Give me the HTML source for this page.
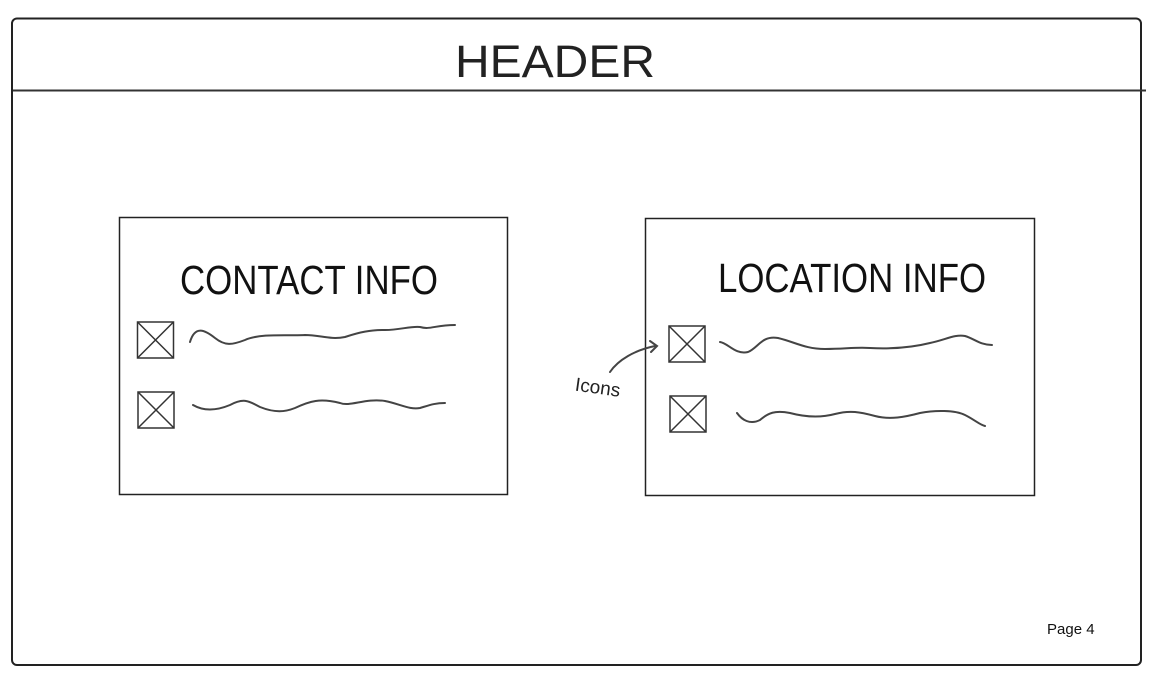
<!DOCTYPE html>
<html><head><meta charset="utf-8"><style>
html,body{margin:0;padding:0;background:#fff;width:1158px;height:692px;overflow:hidden}
svg{display:block}
.hw{font-family:"Liberation Sans Narrow","Liberation Sans",sans-serif;font-weight:normal;fill:#111}
</style></head><body>
<svg width="1158" height="692" viewBox="0 0 1158 692" xmlns="http://www.w3.org/2000/svg">
<rect x="12" y="18.5" width="1129" height="646.5" rx="5" fill="none" stroke="#222" stroke-width="2"/>
<line x1="13" y1="90.5" x2="1146" y2="90.5" stroke="#333" stroke-width="2"/>
<g transform="translate(455,77) scale(1,1.5)">
<text class="hw" x="0" y="0" font-size="30" textLength="200" lengthAdjust="spacingAndGlyphs" style="fill:#222">HEADER</text>
</g>

<rect x="119.5" y="217.5" width="388" height="277" fill="none" stroke="#222" stroke-width="1.5"/>
<rect x="645.5" y="218.5" width="389" height="277" fill="none" stroke="#222" stroke-width="1.5"/>

<g transform="translate(180,294) scale(1,1.45)">
<text class="hw" x="0" y="0" font-size="28" textLength="258" lengthAdjust="spacingAndGlyphs">CONTACT  INFO</text>
</g>
<g transform="translate(718,292) scale(1,1.45)">
<text class="hw" x="0" y="0" font-size="28" textLength="268" lengthAdjust="spacingAndGlyphs">LOCATION  INFO</text>
</g>

<g fill="none" stroke="#333" stroke-width="1.5">
<rect x="137.5" y="322" width="36" height="36"/><path d="M137.5 322L173.5 358M173.5 322L137.5 358"/>
<rect x="138" y="392" width="36" height="36"/><path d="M138 392L174 428M174 392L138 428"/>
<rect x="669" y="326" width="36" height="36"/><path d="M669 326L705 362M705 326L669 362"/>
<rect x="670" y="396" width="36" height="36"/><path d="M670 396L706 432M706 396L670 432"/>
</g>

<g fill="none" stroke="#444" stroke-width="2" stroke-linecap="round">
<path d="M190 342C195 325 205 330 215 338C225 346 232 345 245 340C260 333 290 336 305 335C320 335 330 340 345 337C360 332 370 330 385 330C400 330 410 326 420 327C430 330 435 325 455 325"/>
<path d="M193 405C205 412 218 410 230 405C245 397 250 402 260 407C275 413 285 412 295 408C310 401 320 398 340 403C350 407 365 398 385 401C400 404 410 410 420 408C430 405 435 403 445 403"/>
<path d="M720 342C728 343 735 355 748 352C758 348 762 335 778 338C795 342 805 349 825 349C845 349 855 347 870 348C890 349 910 348 930 343C945 340 955 334 965 336C975 339 980 345 992 345"/>
<path d="M737 413C742 420 750 425 760 420C768 413 775 410 790 413C805 417 820 418 835 414C850 410 860 412 875 416C890 420 905 417 920 413C935 410 955 410 965 415C975 420 980 425 985 426"/>
<path d="M610 372C618 360 635 350 655 346"/>
<path d="M650 341L657 346L651 352"/>
</g>
<text x="575" y="394" font-size="19" fill="#222" transform="rotate(8 600 388)" style="font-family:'Liberation Sans Narrow','Liberation Sans',sans-serif">Icons</text>

<text x="1047" y="634" font-size="15" fill="#111" style="font-family:'Liberation Sans',sans-serif">Page 4</text>
</svg>
</body></html>
